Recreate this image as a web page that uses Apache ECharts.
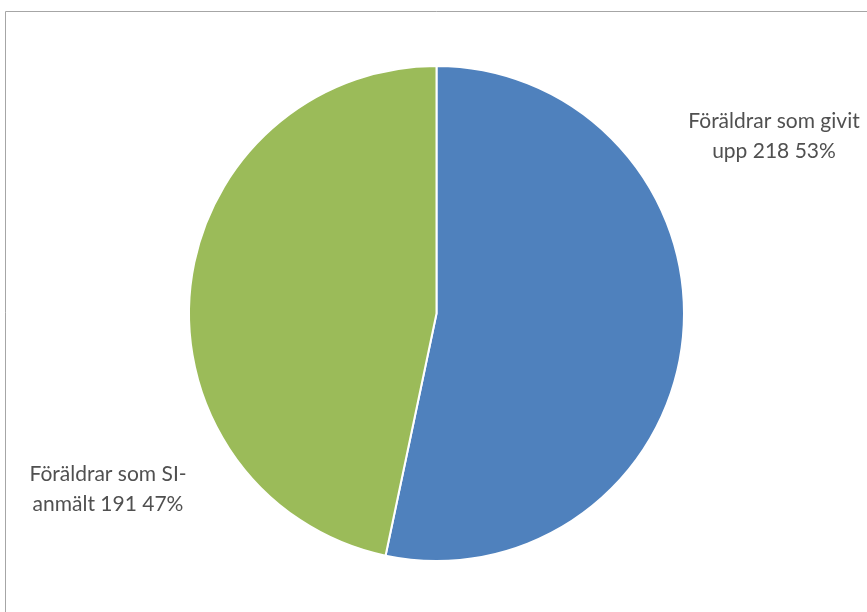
<!DOCTYPE html>
<html><head><meta charset="utf-8">
<script src="https://cdn.jsdelivr.net/npm/echarts@6/dist/echarts.min.js"></script>
<style>html,body{margin:0;padding:0;background:#fff}#c{width:867px;height:612px}</style>
</head><body><div id="c"></div>
<script>
const categories = ["Föräldrar som givit\nupp", "Föräldrar som SI-\nanmält"];
const values = [218, 191];
const colors = ["#4F81BD", "#9BBB59"];

const chart = echarts.init(document.getElementById('c'), null, {renderer: 'canvas'});
const labelPos = [{x: 774, y: 136}, {x: 108, y: 489}];
chart.setOption({
  animation: false,
  backgroundColor: '#fff',
  graphic: [{
    type: 'rect', shape: {x: 5.5, y: 11.5, width: 900, height: 700},
    style: {fill: 'none', stroke: '#a6a6a6', lineWidth: 1}, silent: true, z: 0
  }],
  series: [{
    type: 'pie',
    center: [436.5, 313.5],
    radius: [0, 247.5],
    startAngle: 90,
    clockwise: true,
    silent: true,
    itemStyle: {borderColor: '#fff', borderWidth: 2},
    labelLine: {show: false},
    label: {
      show: true, position: 'outside',
      fontFamily: 'Lato, "Open Sans", sans-serif', fontSize: 21, color: '#505050',
      lineHeight: 30, align: 'center', overflow: 'none', width: 300,
      formatter: p => `${p.name} ${p.value} ${Math.round(p.percent)}%`
    },
    labelLayout: p => ({x: labelPos[p.dataIndex].x, y: labelPos[p.dataIndex].y, align: 'center', verticalAlign: 'middle'}),
    data: categories.map((n, i) => ({name: n, value: values[i], itemStyle: {color: colors[i]}}))
  }]
});
</script></body></html>
